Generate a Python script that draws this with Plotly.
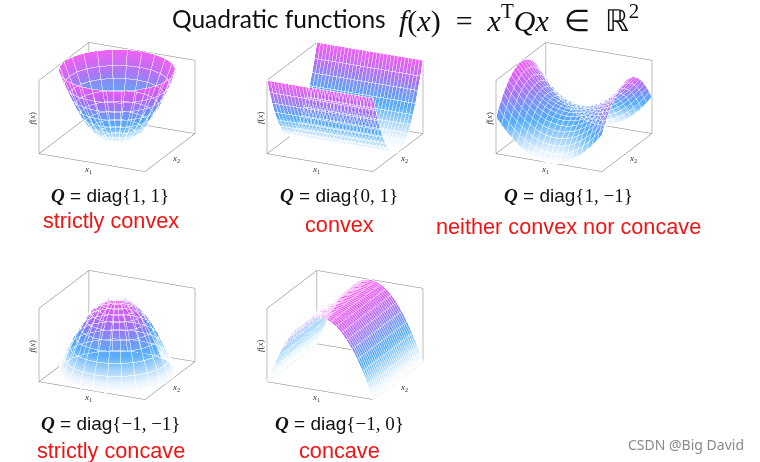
import math
import plotly.graph_objects as go

W, H = 760, 462

# --- data ---
grid = [-1.0, -0.9, -0.8, -0.7, -0.6, -0.5, -0.4, -0.3, -0.2, -0.1, 0.0,
        0.1, 0.2, 0.3, 0.4, 0.5, 0.6, 0.7, 0.8, 0.9, 1.0]
square = [1.0, 0.81, 0.64, 0.49, 0.36, 0.25, 0.16, 0.09, 0.04, 0.01, 0.0,
          0.01, 0.04, 0.09, 0.16, 0.25, 0.36, 0.49, 0.64, 0.81, 1.0]
radii = [0.0, 0.09, 0.18, 0.27, 0.36, 0.45, 0.54, 0.63, 0.72, 0.81, 0.9, 1.0]
ring_height = [0.0, 0.008, 0.032, 0.073, 0.13, 0.2, 0.29, 0.4, 0.52, 0.66, 0.81, 1.0]
angles_deg = [0, 15, 30, 45, 60, 75, 90, 105, 120, 135, 150, 165, 180,
              195, 210, 225, 240, 255, 270, 285, 300, 315, 330, 345, 360]

q_labels = ["{1, 1}", "{0, 1}", "{1, −1}", "{−1, −1}", "{−1, 0}"]
verdicts = ["strictly convex", "convex", "neither convex nor concave",
            "strictly concave", "concave"]
q_coeffs = [(1, 1), (0, 1), (1, -1), (-1, -1), (-1, 0)]

# --- layout in pixels of the 760x462 picture ---
box_centers = [(116.5, 107), (345, 107), (573.5, 107), (116.5, 335), (345, 335)]
q_pos = [(110, 195), (339, 195), (568, 195), (110, 423), (339, 423)]
verdict_pos = [(111, 221), (339, 224), (568, 226), (111, 450), (339, 450)]
SCENE_PX = 200
EYE = (0.3975, -0.845, 0.3575)
EYE_SCALE = 1.61
ASPECT = 1.172

COLORS = [[0.0, "#ffffff"], [0.1, "#e6f3fe"], [0.26, "#9dd0fb"], [0.42, "#4aa8f8"],
          [0.58, "#6a90f6"], [0.74, "#a46cf3"], [0.88, "#d05cf2"], [1.0, "#f055f4"]]
FLAT = dict(ambient=1, diffuse=0, specular=0, fresnel=0, roughness=1)
EDGE = "#7d7d7d"

fig = go.Figure()


def box_edges(zlo, zhi):
    xs, ys, zs = [], [], []
    segs = [((-1, -1, zlo), (1, -1, zlo)), ((1, -1, zlo), (1, 1, zlo)),
            ((1, 1, zlo), (-1, 1, zlo)), ((-1, 1, zlo), (-1, -1, zlo)),
            ((-1, -1, zlo), (-1, -1, zhi)), ((-1, 1, zlo), (-1, 1, zhi)),
            ((1, 1, zlo), (1, 1, zhi)), ((-1, -1, zhi), (-1, 1, zhi)),
            ((-1, 1, zhi), (1, 1, zhi))]
    for a, b in segs:
        xs += [a[0], b[0], None]
        ys += [a[1], b[1], None]
        zs += [a[2], b[2], None]
    return xs, ys, zs


annotations = []


def text(x, y, s, size, color="#111111", family="Liberation Sans", angle=0):
    annotations.append(dict(x=x / W, y=1 - y / H, xref="paper", yref="paper", text=s,
                            showarrow=False, xanchor="center", yanchor="middle",
                            textangle=angle, font=dict(size=size, color=color, family=family)))


for n, (a, b) in enumerate(q_coeffs):
    sid = "scene" if n == 0 else f"scene{n + 1}"
    cx, cy = box_centers[n]
    polar = a == b
    zlo = -1 if a * b < 0 or (a + b) < 0 else 0
    zhi = 0 if (a + b) < 0 else 1
    if polar:
        xx = [[r * math.cos(math.radians(t)) for t in angles_deg] for r in radii]
        yy = [[r * math.sin(math.radians(t)) for t in angles_deg] for r in radii]
        zz = [[a * h] * len(angles_deg) for h in ring_height]
        fig.add_trace(go.Surface(x=xx, y=yy, z=zz, scene=sid, showscale=False, colorscale=COLORS,
                                 cmin=zlo, cmax=zhi, opacity=0.92, lighting=FLAT, hoverinfo="skip"))
        lx, ly, lz = [], [], []
        for i in range(len(radii)):
            lx += xx[i] + [None]; ly += yy[i] + [None]; lz += zz[i] + [None]
        for j in range(len(angles_deg)):
            lx += [row[j] for row in xx] + [None]
            ly += [row[j] for row in yy] + [None]
            lz += [row[j] for row in zz] + [None]
        fig.add_trace(go.Scatter3d(x=lx, y=ly, z=lz, mode="lines", scene=sid, showlegend=False,
                                   hoverinfo="skip", line=dict(color="rgba(255,255,255,0.3)", width=1)))
    else:
        zz = [[a * sx + b * sy for sx in square] for sy in square]
        size_x = 2 / 30 if a == 0 else 0.1
        size_y = 2 / 30 if b == 0 else 0.1
        fig.add_trace(go.Surface(
            x=grid, y=grid, z=zz, scene=sid, showscale=False, colorscale=COLORS, cmin=zlo, cmax=zhi,
            opacity=0.92, lighting=FLAT, hoverinfo="skip",
            contours=dict(
                x=dict(show=True, start=-1, end=1, size=size_x, color="rgba(255,255,255,0.45)", width=1),
                y=dict(show=True, start=-1, end=1, size=size_y, color="rgba(255,255,255,0.45)", width=1))))
    ex, ey, ez = box_edges(zlo, zhi)
    fig.add_trace(go.Scatter3d(x=ex, y=ey, z=ez, mode="lines", scene=sid, showlegend=False,
                               hoverinfo="skip", line=dict(color=EDGE, width=1)))
    plain = dict(visible=False, showgrid=False, zeroline=False, showticklabels=False,
                 showbackground=False, showspikes=False, title="")
    fig.update_layout(**{sid: dict(
        domain=dict(x=[(cx - SCENE_PX / 2) / W, (cx + SCENE_PX / 2) / W],
                    y=[1 - (cy + SCENE_PX / 2) / H, 1 - (cy - SCENE_PX / 2) / H]),
        xaxis=dict(plain, range=[-1, 1]), yaxis=dict(plain, range=[-1, 1]),
        zaxis=dict(plain, range=[zlo, zhi]),
        aspectmode="manual", aspectratio=dict(x=ASPECT, y=ASPECT, z=0.67 * ASPECT),
        camera=dict(projection=dict(type="orthographic"), up=dict(x=0, y=0, z=1),
                    center=dict(x=0, y=0, z=0),
                    eye=dict(x=EYE[0] * EYE_SCALE, y=EYE[1] * EYE_SCALE, z=EYE[2] * EYE_SCALE)),
        bgcolor="rgba(0,0,0,0)")})
    # axis labels
    text(cx - 29, cy + 62, "<i>x</i><sub>1</sub>", 9, "#333333", "Liberation Serif")
    text(cx + 59, cy + 52, "<i>x</i><sub>2</sub>", 9, "#333333", "Liberation Serif")
    text(cx - 85, cy + 11, "<i>f</i>(<i>x</i>)", 9, "#333333", "Liberation Serif", -90)
    # captions
    qx, qy = q_pos[n]
    text(qx, qy, "<b><i style='font-family:Liberation Serif'>Q</i></b> = diag"
         "<span style='font-family:Liberation Serif'>" + q_labels[n] + "</span>", 19, "#111111")
    vx, vy = verdict_pos[n]
    text(vx, vy, verdicts[n], 21.7, "#f01414")

text(279, 19, "Quadratic functions", 24.5, "#111111", "Lato")
text(519, 19, "<i>f</i>(<i>x</i>)&nbsp;&nbsp;=&nbsp;&nbsp;<i>x</i><sup>T</sup><i>Qx</i>&nbsp;&nbsp;∈&nbsp;&nbsp;ℝ<sup>2</sup>",
     30, "#111111", "Liberation Serif")
text(686, 444, "CSDN @Big David", 14, "#8a8a8a", "Noto Sans")

fig.update_layout(width=W, height=H, margin=dict(l=0, r=0, t=0, b=0), paper_bgcolor="white",
                  showlegend=False, annotations=annotations)
fig.write_html("out.html", config={"displayModeBar": False},
               post_script="document.body.style.margin='0';")
